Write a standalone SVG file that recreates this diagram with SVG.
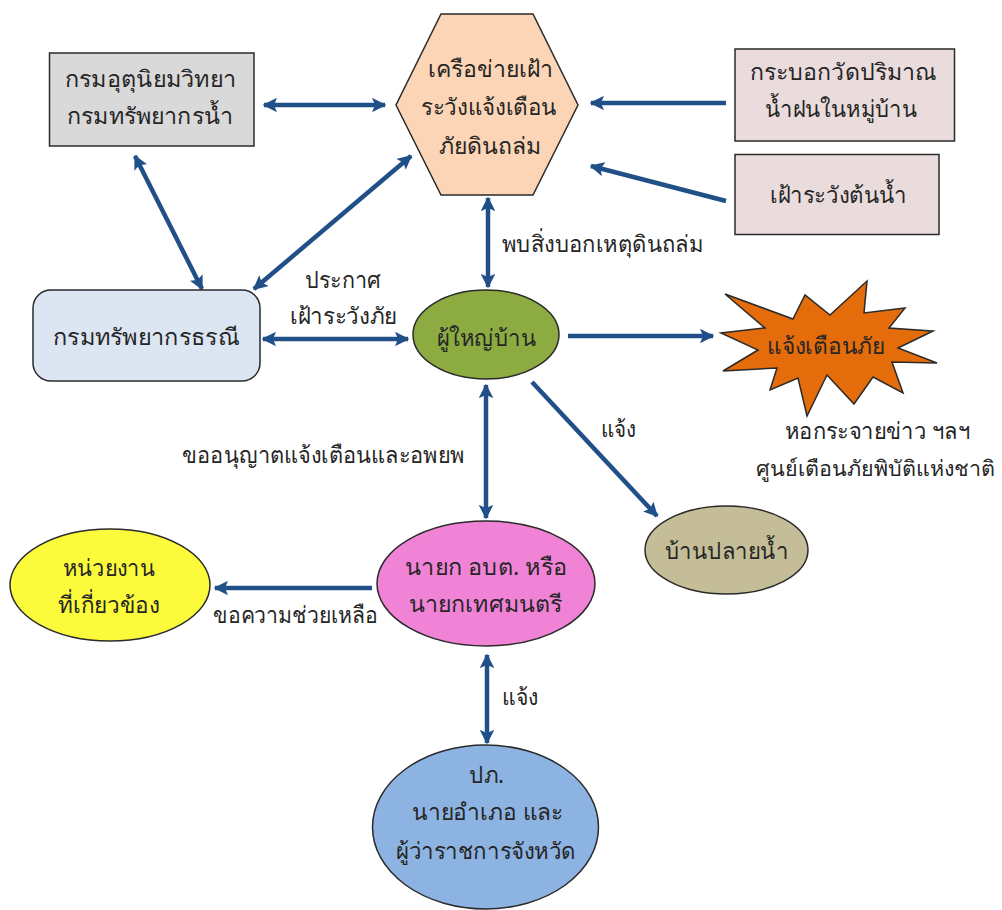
<svg xmlns="http://www.w3.org/2000/svg" width="1002" height="910" viewBox="0 0 1002 910">
<style>
text{font-family:"Noto Sans","Liberation Sans","DejaVu Sans",sans-serif;font-size:23px;fill:#262626;text-anchor:middle}
.n{stroke:#2a2a2a;stroke-width:1.5}
.c{fill:none;stroke:#215088;stroke-width:4.5}
</style>
<defs>
<marker id="a" viewBox="0 0 10 10" refX="9" refY="5" markerWidth="3.2" markerHeight="3.2" orient="auto-start-reverse"><path d="M0 0L10 5L0 10L2 5Z" fill="#215088"/></marker>
</defs>
<rect width="1002" height="910" fill="#fff"/>
<g id="connectors">
<line class="c" x1="264" y1="105" x2="385" y2="105" marker-start="url(#a)" marker-end="url(#a)"/>
<line class="c" x1="135" y1="156" x2="202" y2="289" marker-start="url(#a)" marker-end="url(#a)"/>
<line class="c" x1="254" y1="289" x2="411" y2="156" marker-start="url(#a)" marker-end="url(#a)"/>
<line class="c" x1="488" y1="198" x2="488" y2="287" marker-start="url(#a)" marker-end="url(#a)"/>
<line class="c" x1="263" y1="339" x2="408" y2="339" marker-start="url(#a)" marker-end="url(#a)"/>
<line class="c" x1="726" y1="103" x2="591" y2="103" marker-end="url(#a)"/>
<line class="c" x1="726" y1="201" x2="591" y2="166" marker-end="url(#a)"/>
<line class="c" x1="568" y1="336" x2="713" y2="336" marker-end="url(#a)"/>
<line class="c" x1="532" y1="382" x2="657" y2="516" marker-end="url(#a)"/>
<line class="c" x1="486" y1="385" x2="486" y2="518" marker-start="url(#a)" marker-end="url(#a)"/>
<line class="c" x1="372" y1="588" x2="215" y2="588" marker-end="url(#a)"/>
<line class="c" x1="487" y1="655" x2="487" y2="743" marker-start="url(#a)" marker-end="url(#a)"/>
</g>
<g id="n-tmd"><rect class="n" x="49.500" y="53" width="204.500" height="93" fill="#d9d9d9"/><text x="150.500" y="87" textLength="171" lengthAdjust="spacingAndGlyphs">กรมอุตุนิยมวิทยา</text><text x="150" y="124" textLength="166" lengthAdjust="spacingAndGlyphs">กรมทรัพยากรน้ำ</text></g>
<g id="n-network"><polygon class="n" points="441,14 533,14 578,105 533,195 441,195 396,105" fill="#fbd5b5"/><text x="490.500" y="77" textLength="125" lengthAdjust="spacingAndGlyphs">เครือข่ายเฝ้า</text><text x="489" y="115" textLength="136" lengthAdjust="spacingAndGlyphs">ระวังแจ้งเตือน</text><text x="490" y="154" textLength="102" lengthAdjust="spacingAndGlyphs">ภัยดินถล่ม</text></g>
<g id="n-rain"><rect class="n" x="735" y="49" width="219.500" height="92" fill="#eadcdc"/><text x="843" y="80" textLength="186" lengthAdjust="spacingAndGlyphs">กระบอกวัดปริมาณ</text><text x="841" y="117" textLength="152" lengthAdjust="spacingAndGlyphs">น้ำฝนในหมู่บ้าน</text></g>
<g id="n-watch"><rect class="n" x="735" y="154.500" width="204" height="80" fill="#eadcdc"/><text x="838.500" y="203" textLength="137" lengthAdjust="spacingAndGlyphs">เฝ้าระวังต้นน้ำ</text></g>
<g id="n-dmr"><rect class="n" x="33" y="290" width="227" height="91" rx="18" fill="#dce6f2"/><text x="146" y="345" textLength="186" lengthAdjust="spacingAndGlyphs">กรมทรัพยากรธรณี</text></g>
<g id="n-head"><ellipse class="n" cx="486" cy="334.500" rx="73" ry="44.500" fill="#8cac42"/><text x="486.500" y="346" textLength="99" lengthAdjust="spacingAndGlyphs">ผู้ใหญ่บ้าน</text></g>
<g id="n-alert"><polygon class="n" points="725,294 793,319 805,295 830,315 867,281 864,313 905,308 889,328 933,331 898,348 937,363 892,362 903,393 873,377 854,404 827,375 807,416 798,378 770,390 777,368 723,371 758,350 721,333 765,328" fill="#e46c0a"/><text x="826" y="354" textLength="118" lengthAdjust="spacingAndGlyphs">แจ้งเตือนภัย</text></g>
<g id="n-down"><ellipse class="n" cx="726.500" cy="550" rx="81.500" ry="44" fill="#c4bd97"/><text x="726.500" y="559" textLength="123" lengthAdjust="spacingAndGlyphs">บ้านปลายน้ำ</text></g>
<g id="n-agency"><ellipse class="n" cx="110" cy="585" rx="100" ry="56" fill="#fbfb3c"/><text x="109" y="576" textLength="92" lengthAdjust="spacingAndGlyphs">หน่วยงาน</text><text x="109" y="613" textLength="102" lengthAdjust="spacingAndGlyphs">ที่เกี่ยวข้อง</text></g>
<g id="n-mayor"><ellipse class="n" cx="486" cy="583.500" rx="109" ry="62.500" fill="#f083d6"/><text x="486" y="575" textLength="162" lengthAdjust="spacingAndGlyphs">นายก อบต. หรือ</text><text x="485.500" y="612" textLength="153" lengthAdjust="spacingAndGlyphs">นายกเทศมนตรี</text></g>
<g id="n-gov"><ellipse class="n" cx="485.500" cy="827" rx="113" ry="82" fill="#8db3e2"/><text x="486.500" y="783" textLength="35" lengthAdjust="spacingAndGlyphs">ปภ.</text><text x="487.500" y="820" textLength="151" lengthAdjust="spacingAndGlyphs">นายอำเภอ และ</text><text x="486" y="859" textLength="180" lengthAdjust="spacingAndGlyphs">ผู้ว่าราชการจังหวัด</text></g>
<g id="labels">
<text x="602.500" y="252" textLength="201" lengthAdjust="spacingAndGlyphs">พบสิ่งบอกเหตุดินถล่ม</text>
<text x="343" y="288" textLength="76" lengthAdjust="spacingAndGlyphs">ประกาศ</text>
<text x="343.500" y="324" textLength="107" lengthAdjust="spacingAndGlyphs">เฝ้าระวังภัย</text>
<text x="618.500" y="437" textLength="35" lengthAdjust="spacingAndGlyphs">แจ้ง</text>
<text x="877.500" y="439" textLength="185" lengthAdjust="spacingAndGlyphs">หอกระจายข่าว ฯลฯ</text>
<text x="875" y="476" style="font-size:21.500px">ศูนย์เตือนภัยพิบัติแห่งชาติ</text>
<text x="323" y="463" textLength="282" lengthAdjust="spacingAndGlyphs">ขออนุญาตแจ้งเตือนและอพยพ</text>
<text x="295.500" y="623" textLength="165" lengthAdjust="spacingAndGlyphs">ขอความช่วยเหลือ</text>
<text x="520" y="705" textLength="36" lengthAdjust="spacingAndGlyphs">แจ้ง</text>
</g>
</svg>
